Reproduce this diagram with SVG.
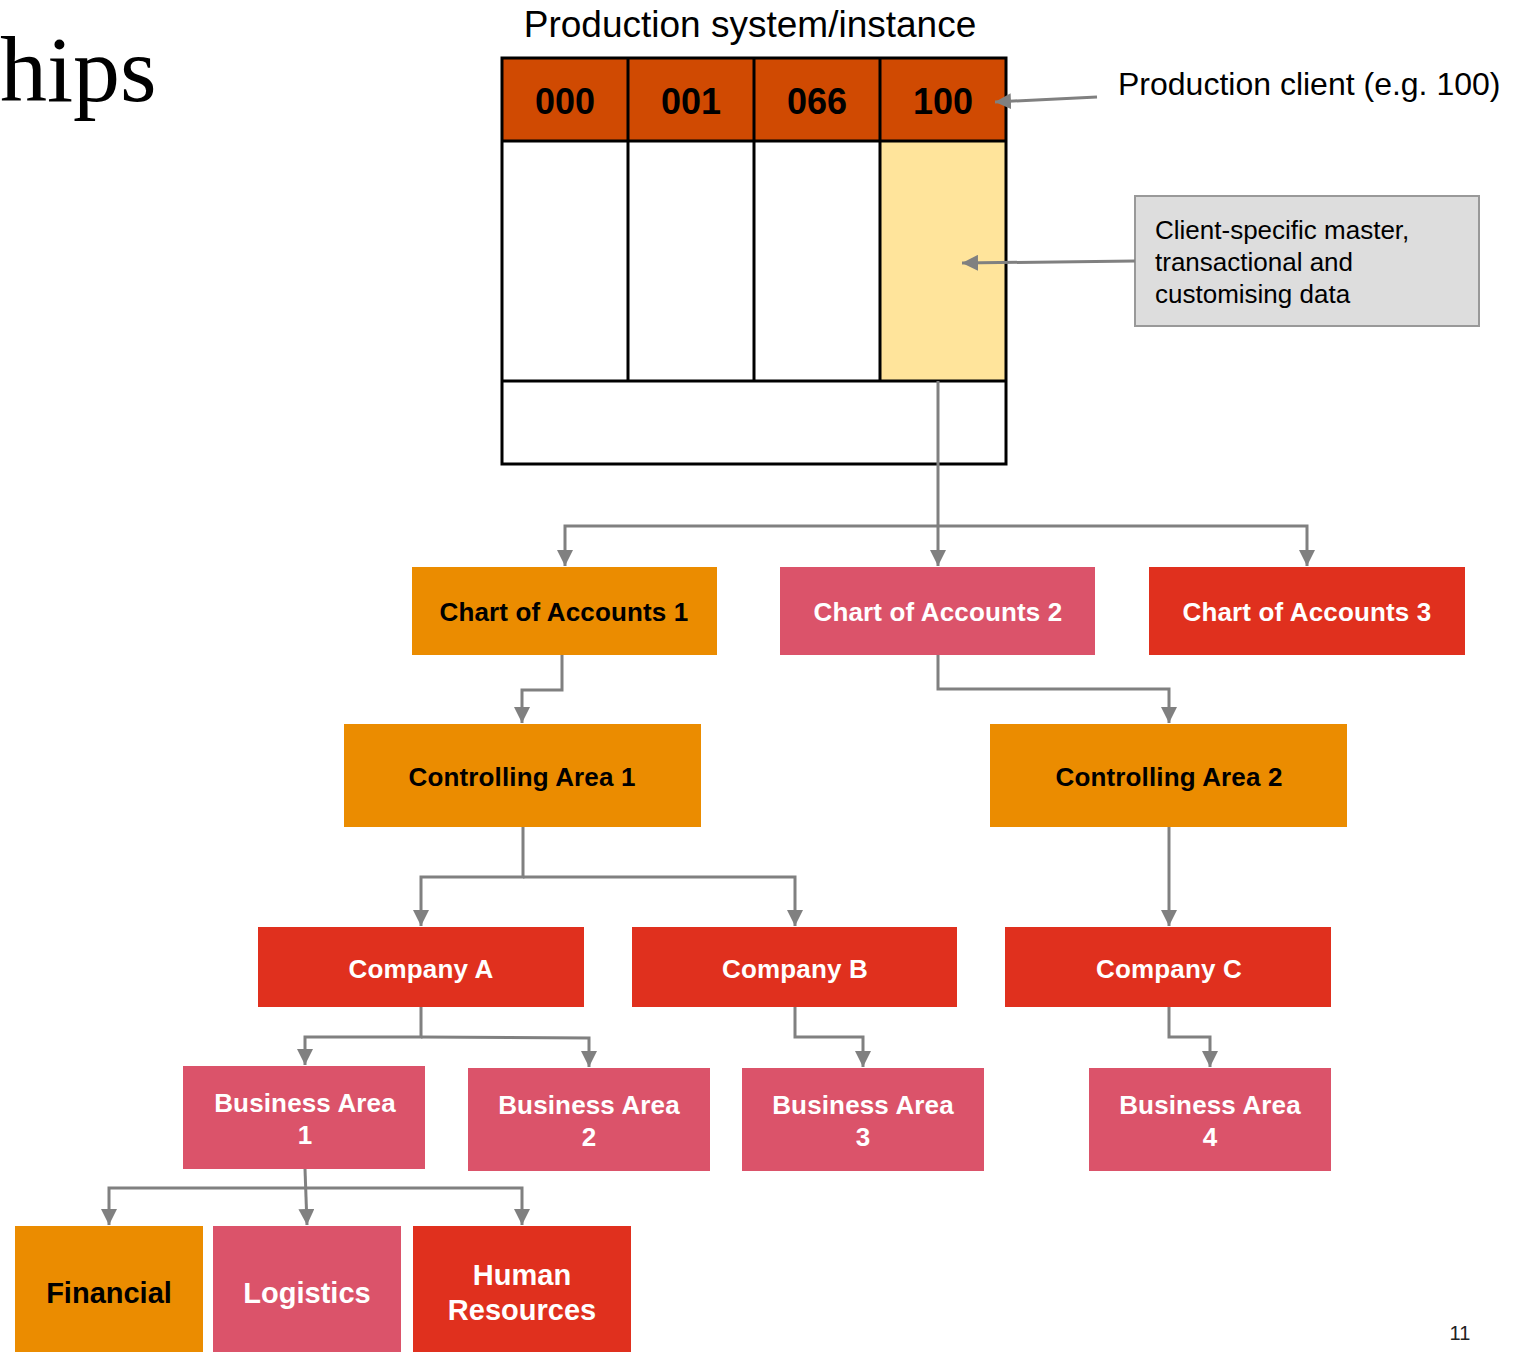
<svg xmlns="http://www.w3.org/2000/svg" width="1521" height="1352" viewBox="0 0 1521 1352">
  <defs>
    <marker id="arrow" markerUnits="userSpaceOnUse" markerWidth="16" markerHeight="16" viewBox="0 0 15 15" refX="15" refY="7.5" orient="auto">
      <path d="M0,0 L15,7.5 L0,15 z" fill="#808080"/>
    </marker>
    <style>
      .sans { font-family: "Liberation Sans", Arial, sans-serif; }
      .node-label { font-family: "Liberation Sans", Arial, sans-serif; font-weight: bold; font-size: 26px; letter-spacing: 0.15px; text-anchor: middle; }
      .big-label { font-family: "Liberation Sans", Arial, sans-serif; font-weight: bold; font-size: 29px; text-anchor: middle; }
      .light { fill: #FFFFFF; }
      .dark { fill: #000000; }
      .orange { fill: #EB8C00; }
      .pink { fill: #DB536A; }
      .red { fill: #E0301E; }
      .conn { fill: none; stroke: #808080; stroke-width: 3; marker-end: url(#arrow); }
      .grid { fill: none; stroke: #000000; stroke-width: 3; }
      .hdr { font-family: "Liberation Sans", Arial, sans-serif; font-weight: bold; font-size: 36px; text-anchor: middle; fill: #000000; }
    </style>
  </defs>

  <rect width="1521" height="1352" fill="#FFFFFF"/>

  <!-- slide title fragment -->
  <text x="0" y="101" font-family="'Liberation Serif', 'Times New Roman', serif" font-size="94" fill="#000000">hips</text>

  <!-- production system table -->
  <g id="production-system">
    <text x="750" y="37" class="sans" font-size="37" text-anchor="middle" fill="#000000">Production system/instance</text>
    <rect x="502" y="58" width="504" height="83" fill="#D04A02"/>
    <rect x="880" y="141" width="126" height="240" fill="#FFE49B"/>
    <rect x="502" y="58" width="504" height="406" class="grid"/>
    <path d="M502,141 H1006 M502,381 H1006 M628,58 V381 M754,58 V381 M880,58 V381" class="grid"/>
    <text x="565" y="114" class="hdr">000</text>
    <text x="691" y="114" class="hdr">001</text>
    <text x="817" y="114" class="hdr">066</text>
    <text x="943" y="114" class="hdr">100</text>
  </g>

  <g id="production-client-label">
    <text x="1118" y="95" class="sans" font-size="32" fill="#000000">Production client (e.g. 100)</text>
  </g>

  <g id="client-data-note">
    <rect x="1135" y="196" width="344" height="130" fill="#DDDDDD" stroke="#999999" stroke-width="2"/>
    <text class="sans" font-size="26" fill="#000000">
      <tspan x="1155" y="239">Client-specific master,</tspan>
      <tspan x="1155" y="271">transactional and</tspan>
      <tspan x="1155" y="303">customising data</tspan>
    </text>
  </g>

  <!-- hierarchy nodes -->
  <g id="coa1"><rect x="412" y="567" width="305" height="88" class="orange"/><text x="564" y="621" class="node-label dark">Chart of Accounts 1</text></g>
  <g id="coa2"><rect x="780" y="567" width="315" height="88" class="pink"/><text x="938" y="621" class="node-label light">Chart of Accounts 2</text></g>
  <g id="coa3"><rect x="1149" y="567" width="316" height="88" class="red"/><text x="1307" y="621" class="node-label light">Chart of Accounts 3</text></g>

  <g id="ca1"><rect x="344" y="724" width="357" height="103" class="orange"/><text x="522" y="786" class="node-label dark">Controlling Area 1</text></g>
  <g id="ca2"><rect x="990" y="724" width="357" height="103" class="orange"/><text x="1169" y="786" class="node-label dark">Controlling Area 2</text></g>

  <g id="company-a"><rect x="258" y="927" width="326" height="80" class="red"/><text x="421" y="978" class="node-label light">Company A</text></g>
  <g id="company-b"><rect x="632" y="927" width="325" height="80" class="red"/><text x="795" y="978" class="node-label light">Company B</text></g>
  <g id="company-c"><rect x="1005" y="927" width="326" height="80" class="red"/><text x="1169" y="978" class="node-label light">Company C</text></g>

  <g id="ba1"><rect x="183" y="1066" width="242" height="103" class="pink"/><text class="node-label light"><tspan x="305" y="1112">Business Area</tspan><tspan x="305" y="1144">1</tspan></text></g>
  <g id="ba2"><rect x="468" y="1068" width="242" height="103" class="pink"/><text class="node-label light"><tspan x="589" y="1114">Business Area</tspan><tspan x="589" y="1146">2</tspan></text></g>
  <g id="ba3"><rect x="742" y="1068" width="242" height="103" class="pink"/><text class="node-label light"><tspan x="863" y="1114">Business Area</tspan><tspan x="863" y="1146">3</tspan></text></g>
  <g id="ba4"><rect x="1089" y="1068" width="242" height="103" class="pink"/><text class="node-label light"><tspan x="1210" y="1114">Business Area</tspan><tspan x="1210" y="1146">4</tspan></text></g>

  <g id="financial"><rect x="15" y="1226" width="188" height="126" class="orange"/><text x="109" y="1303" class="big-label dark">Financial</text></g>
  <g id="logistics"><rect x="213" y="1226" width="188" height="126" class="pink"/><text x="307" y="1303" class="big-label light">Logistics</text></g>
  <g id="human-resources"><rect x="413" y="1226" width="218" height="126" class="red"/><text class="big-label light"><tspan x="522" y="1285">Human</tspan><tspan x="522" y="1320">Resources</tspan></text></g>

  <!-- connectors -->
  <g id="connectors">
    <path d="M1097,97 L995,102" class="conn"/>
    <path d="M1135,261 L962,263" class="conn"/>
    <path d="M938,381 V566" class="conn"/>
    <path d="M938,526 H565 V566" class="conn"/>
    <path d="M938,526 H1307 V566" class="conn"/>
    <path d="M562,655 V690 H522 V723" class="conn"/>
    <path d="M938,655 V689 H1169 V723" class="conn"/>
    <path d="M523,827 V877 H421 V926" class="conn"/>
    <path d="M523,877 H795 V926" class="conn"/>
    <path d="M1169,827 V926" class="conn"/>
    <path d="M421,1007 V1037 H305 V1065" class="conn"/>
    <path d="M421,1037 L589,1038 V1067" class="conn"/>
    <path d="M795,1007 V1037 H863 V1067" class="conn"/>
    <path d="M1169,1007 V1037 H1210 V1067" class="conn"/>
    <path d="M305,1169 L307,1225" class="conn"/>
    <path d="M306,1188 H109 V1225" class="conn"/>
    <path d="M306,1188 H522 V1225" class="conn"/>
  </g>

  <text x="1460" y="1340" class="sans" font-size="20" text-anchor="middle" fill="#222222">11</text>
</svg>
